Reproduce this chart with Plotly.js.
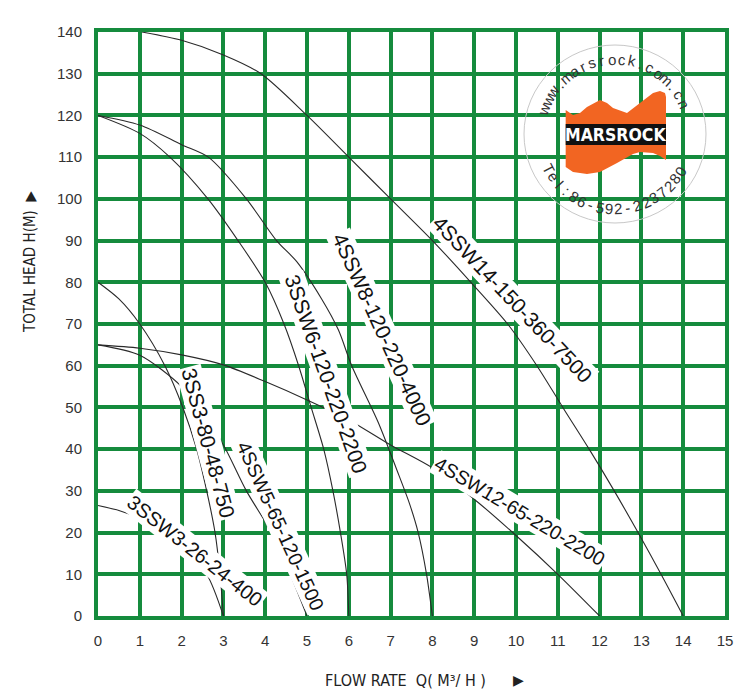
<!DOCTYPE html>
<html>
<head>
<meta charset="utf-8">
<script src="https://cdn.plot.ly/plotly-3.0.1.min.js"></script>
<style>html,body{margin:0;padding:0;background:#fff;}#chart{width:750px;height:698px;}</style>
</head>
<body>
<div id="chart"></div>
<script>
// ---- data (flow Q in m3/h, head H in m) ----
const seriesNames = ["3SSW3-26-24-400","3SS3-80-48-750","4SSW5-65-120-1500","3SSW6-120-220-2200","4SSW8-120-220-4000","4SSW12-65-220-2200","4SSW14-150-360-7500"];
const q_3SSW3 = [0, 0.5, 1, 1.64, 2, 2.6, 3];
const h_3SSW3 = [26.5, 25.3, 23.4, 20, 16.5, 10, 0];
const q_3SS3 = [0, 0.5, 1, 1.6, 2.03, 2.36, 2.6, 2.8, 2.92, 3];
const h_3SS3 = [80, 76, 70, 60, 50, 40, 30, 20, 10, 0];
const q_4SSW5 = [0, 1, 2, 2.5, 3, 3.55, 4.15, 4.6, 5];
const h_4SSW5 = [65, 62.5, 55, 48.5, 41, 30, 20, 10, 0];
const q_3SSW6 = [0, 1, 1.72, 2.63, 3.35, 4.0, 4.45, 4.8, 5.1, 5.4, 5.62, 5.8, 5.95, 6];
const h_3SSW6 = [120, 115.7, 110, 100, 90, 80, 70, 60, 50, 40, 30, 20, 10, 0];
const q_4SSW8 = [0, 1, 2, 2.64, 3.55, 4.27, 4.75, 5.35, 5.75, 6.07, 6.7, 7.15, 7.45, 7.66, 7.86, 8];
const h_4SSW8 = [120, 117.7, 113, 110, 100, 90, 85, 76, 68.6, 60, 46.5, 35, 27, 20, 10, 0];
const q_4SSW12 = [0, 1, 2, 3, 4, 5, 6, 7, 8, 9, 10, 11, 12];
const h_4SSW12 = [65, 64.2, 62.6, 60.2, 56.2, 51.8, 47, 41, 35.5, 28, 19.3, 10, 0];
const q_4SSW14 = [1.05, 2, 3, 3.9, 5, 6, 7, 8, 8.92, 9.8, 10.5, 11.12, 11.75, 12.35, 12.92, 13.47, 14];
const h_4SSW14 = [140, 138, 134.5, 130, 120, 110, 100, 90, 80, 70, 60, 50, 40, 30, 20, 10, 0];
const xTicks = [0,1,2,3,4,5,6,7,8,9,10,11,12,13,14,15];
const yTicks = [0,10,20,30,40,50,60,70,80,90,100,110,120,130,140];

const Qs = [q_3SSW3, q_3SS3, q_4SSW5, q_3SSW6, q_4SSW8, q_4SSW12, q_4SSW14];
const Hs = [h_3SSW3, h_3SS3, h_4SSW5, h_3SSW6, h_4SSW8, h_4SSW12, h_4SSW14];

const GREEN = "#158b3d";
const traces = seriesNames.map((n, i) => ({
  x: Qs[i], y: Hs[i], name: n, type: "scatter", mode: "lines",
  line: {color: "#2a2a2a", width: 1.1, shape: "spline", smoothing: 0.8},
  hoverinfo: "x+y+name", showlegend: false
}));

// ---- layout helpers (pixel -> paper) for decorations ----
const M = {l: 98, r: 25, t: 32, b: 82};
const W = 750, H = 698;
const PW = W - M.l - M.r, PH = H - M.t - M.b;
const px = x => (x - M.l) / PW;
const py = y => (H - M.b - y) / PH;
const NARROW = "Liberation Sans Narrow, DejaVu Sans Condensed, Arial Narrow, sans-serif";

// curve labels (placed in data coords)
const labels = [
  {text: "4SSW14-150-360-7500", x: 9.92, y: 75.8, a: 46.5, s: 21},
  {text: "4SSW8-120-220-4000", x: 6.79, y: 68.6, a: 65.5, s: 21},
  {text: "3SSW6-120-220-2200", x: 5.47, y: 58, a: 70.5, s: 21},
  {text: "3SS3-80-48-750", x: 2.63, y: 41.5, a: 75, s: 21},
  {text: "4SSW5-65-120-1500", x: 4.37, y: 21.6, a: 65.5, s: 19.5},
  {text: "3SSW3-26-24-400", x: 2.32, y: 15.6, a: 38.3, s: 20},
  {text: "4SSW12-65-220-2200", x: 10.09, y: 25.2, a: 30.6, s: 19.5}
];
const annotations = labels.map(L => ({
  text: L.text, x: L.x, y: L.y, xref: "x", yref: "y", showarrow: false,
  xanchor: "center", yanchor: "middle",
  textangle: L.a, font: {family: "Liberation Sans, Arial, sans-serif", size: L.s, color: "#111"},
  bgcolor: "#fff", borderpad: 1
}));

function paperNote(text, x, y, font, angle) {
  annotations.push({text: text, xref: "paper", yref: "paper", x: px(x), y: py(y), showarrow: false,
    xanchor: "center", yanchor: "middle", textangle: angle || 0, font: font});
}
// axis titles
paperNote("TOTAL HEAD H(M)  ▶", 30, 262, {family: NARROW, size: 15, color: "#222"}, -90);
paperNote("FLOW RATE  Q( M³/ H )", 405, 680, {family: NARROW, size: 16, color: "#222"});
paperNote("▶", 518, 680, {family: "DejaVu Sans, sans-serif", size: 14, color: "#222"});

// logo
const cx = 615, cy = 134;
paperNote("<b>MARSROCK</b>", 615.5, 135, {family: NARROW, size: 17.5, color: "#fff"});
function arcText(str, r, a0, a1, top) {
  const n = str.length;
  for (let i = 0; i < n; i++) {
    const th = a0 + (a1 - a0) * (i + 0.5) / n;
    const rad = th * Math.PI / 180;
    paperNote(str[i], cx + r * Math.cos(rad), cy - r * Math.sin(rad),
      {family: "Liberation Sans, Arial, sans-serif", size: 15, color: "#333"}, top ? 90 - th : 270 - th);
  }
}
arcText("www.marsrock.com.cn", 75, 165, 20, true);
arcText("Tel:86-592-2237280", 75, 204, 334, false);

const orangePts = [[565.7,110],[573,115],[580,113],[587,107],[600,100],[607,103],[613,108],[627,113],[640,103],[653,93],[660,91],[665,93],[666,97],
  [666,160],[660,156],[653,153],[640,152],[633,154],[617,163],[600,172],[587,174],[573,172],[565.7,167]];
const orangePath = "M " + orangePts.map(p => px(p[0]).toFixed(4) + "," + py(p[1]).toFixed(4)).join(" L ") + " Z";

const shapes = [
  {type: "circle", xref: "paper", yref: "paper", x0: px(cx - 91), x1: px(cx + 91), y0: py(cy + 89), y1: py(cy - 89),
   line: {color: "#c8c8c8", width: 1}, layer: "above"},
  {type: "path", xref: "paper", yref: "paper", path: orangePath, fillcolor: "#f26522", line: {width: 0}, layer: "above"},
  {type: "rect", xref: "paper", yref: "paper", x0: px(565.7), x1: px(666), y0: py(145), y1: py(124),
   fillcolor: "#111", line: {width: 0}, layer: "above"}
];

const tickFont = {family: "Liberation Sans, Arial, sans-serif", size: 15, color: "#333"};
const layout = {
  width: W, height: H, margin: M, paper_bgcolor: "#fff", plot_bgcolor: "#fff",
  xaxis: {range: [0, 15], tickvals: xTicks, ticktext: xTicks.map(String), showgrid: true, gridcolor: GREEN, gridwidth: 4,
    zeroline: false, showline: true, mirror: true, linecolor: GREEN, linewidth: 4, ticks: "", tickfont: tickFont,
    ticklabelstandoff: 8, fixedrange: true},
  yaxis: {range: [0, 140], tickvals: yTicks, ticktext: yTicks.map(String), showgrid: true, gridcolor: GREEN, gridwidth: 4,
    zeroline: false, showline: true, mirror: true, linecolor: GREEN, linewidth: 4, ticks: "", tickfont: tickFont,
    ticklabelstandoff: 9, fixedrange: true},
  annotations: annotations, shapes: shapes, showlegend: false
};
Plotly.newPlot("chart", traces, layout, {displayModeBar: false, staticPlot: true});
</script>
</body>
</html>
